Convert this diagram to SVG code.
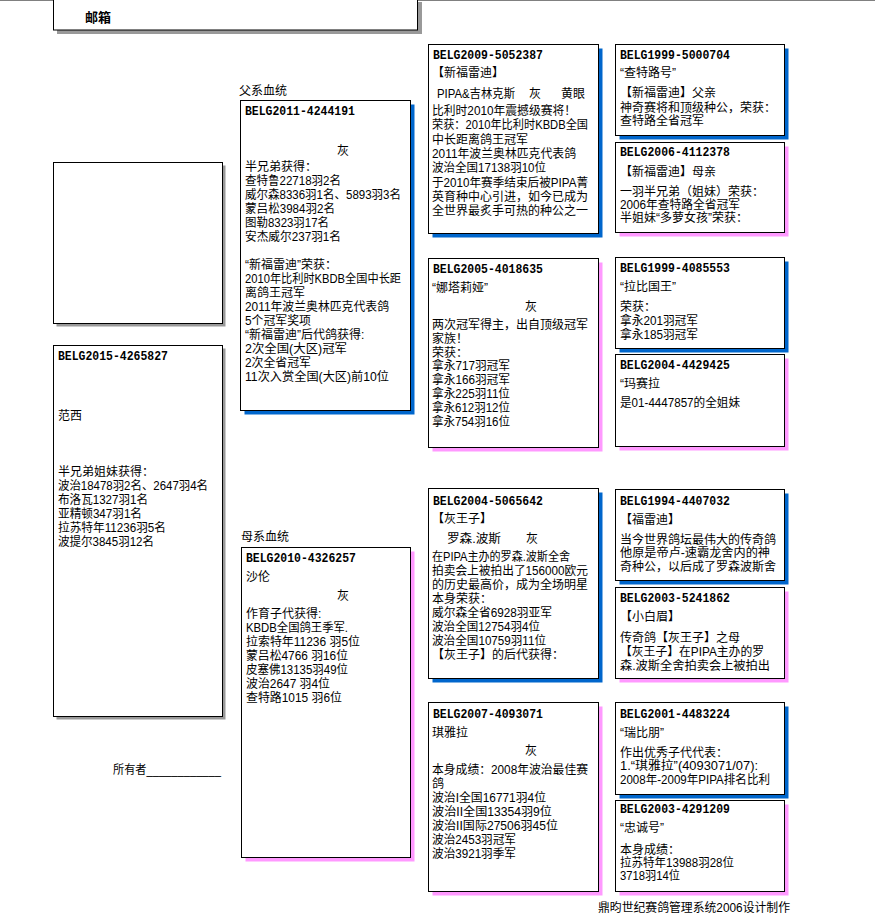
<svg xmlns="http://www.w3.org/2000/svg" width="875" height="914" viewBox="0 0 875 914">
<style>
.box{fill:#fff;stroke:#000;stroke-width:1}
.sb{fill:#0066cc}
.sp{fill:#ff99ff}
.sg{fill:#999}
text{font-family:"Liberation Sans","Noto Sans CJK SC",sans-serif;font-size:12px;fill:#000}
.h{font-family:"Liberation Mono","DejaVu Sans Mono",monospace;font-weight:bold;font-size:13px}
.big{font-size:13px;font-weight:bold}
</style>
<rect width="875" height="914" fill="#fff"/>
<line x1="0" y1="0.5" x2="875" y2="0.5" stroke="#808080" stroke-width="1"/>

<g id="mailbox">
<rect class="sg" x="57" y="2" width="365" height="32"/>
<rect class="box" x="53.5" y="-1.5" width="364" height="31.5"/>
<text class="big" x="85" y="22">邮箱</text>
</g>

<g id="photo">
<rect class="sg" x="56.5" y="165.5" width="169" height="161"/>
<rect class="box" x="53.5" y="162.5" width="169" height="161"/>
</g>

<g id="BELG2015-4265827">
<rect class="sg" x="56.5" y="348.5" width="169" height="371"/>
<rect class="box" x="53.5" y="345.5" width="169" height="371"/>
<text class="h" x="58" y="360" textLength="110" lengthAdjust="spacingAndGlyphs">BELG2015-4265827</text>
<text x="58" y="420">范西</text>
<text x="58" y="476">半兄弟姐妹获得：</text>
<text x="58" y="490" textLength="150" lengthAdjust="spacingAndGlyphs">波治18478羽2名、2647羽4名</text>
<text x="58" y="504" textLength="90" lengthAdjust="spacingAndGlyphs">布洛瓦1327羽1名</text>
<text x="58" y="518" textLength="84" lengthAdjust="spacingAndGlyphs">亚精顿347羽1名</text>
<text x="58" y="532" textLength="108" lengthAdjust="spacingAndGlyphs">拉苏特年11236羽5名</text>
<text x="58" y="546" textLength="96" lengthAdjust="spacingAndGlyphs">波提尔3845羽12名</text>
</g>

<g id="owner">
<text x="113" y="774" textLength="108" lengthAdjust="spacingAndGlyphs">所有者____________</text>
</g>

<g id="label-sire">
<text x="239" y="95">父系血统</text>
</g>
<g id="label-dam">
<text x="241" y="541">母系血统</text>
</g>

<g id="BELG2011-4244191">
<rect class="sb" x="244.5" y="104.5" width="170" height="310"/>
<rect class="box" x="240.5" y="100.5" width="170" height="310"/>
<text class="h" x="245" y="115" textLength="110" lengthAdjust="spacingAndGlyphs">BELG2011-4244191</text>
<text x="337" y="155">灰</text>
<text x="245" y="171">半兄弟获得：</text>
<text x="245" y="185" textLength="96" lengthAdjust="spacingAndGlyphs">查特鲁22718羽2名</text>
<text x="245" y="199" textLength="156" lengthAdjust="spacingAndGlyphs">威尔森8336羽1名、5893羽3名</text>
<text x="245" y="213" textLength="90" lengthAdjust="spacingAndGlyphs">蒙吕松3984羽2名</text>
<text x="245" y="227" textLength="84" lengthAdjust="spacingAndGlyphs">图勒8323羽17名</text>
<text x="245" y="241" textLength="96" lengthAdjust="spacingAndGlyphs">安杰威尔237羽1名</text>
<text x="245" y="269">“新福雷迪”荣获：</text>
<text x="245" y="283" textLength="156" lengthAdjust="spacingAndGlyphs">2010年比利时KBDB全国中长距</text>
<text x="245" y="297">离鸽王冠军</text>
<text x="245" y="311" textLength="144" lengthAdjust="spacingAndGlyphs">2011年波兰奥林匹克代表鸽</text>
<text x="245" y="325" textLength="66" lengthAdjust="spacingAndGlyphs">5个冠军奖项</text>
<text x="245" y="339">“新福雷迪”后代鸽获得:</text>
<text x="245" y="353" textLength="102" lengthAdjust="spacingAndGlyphs">2次全国(大区)冠军</text>
<text x="245" y="367" textLength="66" lengthAdjust="spacingAndGlyphs">2次全省冠军</text>
<text x="245" y="381" textLength="144" lengthAdjust="spacingAndGlyphs">11次入赏全国(大区)前10位</text>
</g>

<g id="BELG2010-4326257">
<rect class="sp" x="245.5" y="551.5" width="169" height="310"/>
<rect class="box" x="241.5" y="547.5" width="169" height="310"/>
<text class="h" x="246" y="562" textLength="110" lengthAdjust="spacingAndGlyphs">BELG2010-4326257</text>
<text x="246" y="581">沙伦</text>
<text x="337" y="600">灰</text>
<text x="246" y="618">作育子代获得:</text>
<text x="246" y="632" textLength="102" lengthAdjust="spacingAndGlyphs">KBDB全国鸽王季军.</text>
<text x="246" y="646" textLength="114" lengthAdjust="spacingAndGlyphs">拉索特年11236 羽5位</text>
<text x="246" y="660" textLength="102" lengthAdjust="spacingAndGlyphs">蒙吕松4766 羽16位</text>
<text x="246" y="674" textLength="102" lengthAdjust="spacingAndGlyphs">皮塞佛13135羽49位</text>
<text x="246" y="688" textLength="84" lengthAdjust="spacingAndGlyphs">波治2647 羽4位</text>
<text x="246" y="702" textLength="96" lengthAdjust="spacingAndGlyphs">查特路1015 羽6位</text>
</g>

<g id="BELG2009-5052387">
<rect class="sb" x="432.5" y="48.5" width="170" height="189"/>
<rect class="box" x="428.5" y="44.5" width="170" height="189"/>
<text class="h" x="433" y="59" textLength="110" lengthAdjust="spacingAndGlyphs">BELG2009-5052387</text>
<text x="432" y="77">【新福雷迪】</text>
<text x="437" y="98" textLength="78" lengthAdjust="spacingAndGlyphs">PIPA&amp;吉林克斯</text>
<text x="529" y="98">灰</text>
<text x="561" y="98">黄眼</text>
<text x="432" y="115" textLength="144" lengthAdjust="spacingAndGlyphs">比利时2010年震撼级赛将！</text>
<text x="432" y="129.3" textLength="156" lengthAdjust="spacingAndGlyphs">荣获：2010年比利时KBDB全国</text>
<text x="432" y="143.6">中长距离鸽王冠军</text>
<text x="432" y="157.9" textLength="144" lengthAdjust="spacingAndGlyphs">2011年波兰奥林匹克代表鸽</text>
<text x="432" y="172.2" textLength="114" lengthAdjust="spacingAndGlyphs">波治全国17138羽10位</text>
<text x="432" y="186.5" textLength="156" lengthAdjust="spacingAndGlyphs">于2010年赛季结束后被PIPA菁</text>
<text x="432" y="200.8">英育种中心引进，如今已成为</text>
<text x="432" y="215.1">全世界最炙手可热的种公之一</text>
</g>

<g id="BELG2005-4018635">
<rect class="sp" x="432.5" y="262.5" width="170" height="189"/>
<rect class="box" x="428.5" y="258.5" width="170" height="189"/>
<text class="h" x="433" y="273" textLength="110" lengthAdjust="spacingAndGlyphs">BELG2005-4018635</text>
<text x="432" y="292">“娜塔莉娅”</text>
<text x="525" y="311">灰</text>
<text x="432" y="329">两次冠军得主，出自顶级冠军</text>
<text x="432" y="342.8">家族！</text>
<text x="432" y="356.6">荣获：</text>
<text x="432" y="370.4" textLength="78" lengthAdjust="spacingAndGlyphs">拿永717羽冠军</text>
<text x="432" y="384.2" textLength="78" lengthAdjust="spacingAndGlyphs">拿永166羽冠军</text>
<text x="432" y="398" textLength="78" lengthAdjust="spacingAndGlyphs">拿永225羽11位</text>
<text x="432" y="411.8" textLength="78" lengthAdjust="spacingAndGlyphs">拿永612羽12位</text>
<text x="432" y="425.6" textLength="78" lengthAdjust="spacingAndGlyphs">拿永754羽16位</text>
</g>

<g id="BELG2004-5065642">
<rect class="sb" x="432.5" y="492.5" width="170" height="190"/>
<rect class="box" x="428.5" y="488.5" width="170" height="190"/>
<text class="h" x="433" y="505" textLength="110" lengthAdjust="spacingAndGlyphs">BELG2004-5065642</text>
<text x="432" y="523">【灰王子】</text>
<text x="447" y="543" textLength="54" lengthAdjust="spacingAndGlyphs">罗森.波斯</text>
<text x="526" y="543">灰</text>
<text x="432" y="561" textLength="138" lengthAdjust="spacingAndGlyphs">在PIPA主办的罗森.波斯全舍</text>
<text x="432" y="575" textLength="156" lengthAdjust="spacingAndGlyphs">拍卖会上被拍出了156000欧元</text>
<text x="432" y="589">的历史最高价，成为全场明星</text>
<text x="432" y="603">本身荣获：</text>
<text x="432" y="617" textLength="120" lengthAdjust="spacingAndGlyphs">威尔森全省6928羽亚军</text>
<text x="432" y="631" textLength="108" lengthAdjust="spacingAndGlyphs">波治全国12754羽4位</text>
<text x="432" y="645" textLength="114" lengthAdjust="spacingAndGlyphs">波治全国10759羽11位</text>
<text x="432" y="659">【灰王子】的后代获得：</text>
</g>

<g id="BELG2007-4093071">
<rect class="sp" x="432.5" y="706.5" width="170" height="189"/>
<rect class="box" x="428.5" y="702.5" width="170" height="189"/>
<text class="h" x="433" y="718" textLength="110" lengthAdjust="spacingAndGlyphs">BELG2007-4093071</text>
<text x="432" y="737">琪雅拉</text>
<text x="525" y="755">灰</text>
<text x="432" y="774" textLength="156" lengthAdjust="spacingAndGlyphs">本身成绩：2008年波治最佳赛</text>
<text x="432" y="788">鸽</text>
<text x="432" y="802" textLength="114" lengthAdjust="spacingAndGlyphs">波治I全国16771羽4位</text>
<text x="432" y="816" textLength="120" lengthAdjust="spacingAndGlyphs">波治II全国13354羽9位</text>
<text x="432" y="830" textLength="126" lengthAdjust="spacingAndGlyphs">波治II国际27506羽45位</text>
<text x="432" y="844" textLength="84" lengthAdjust="spacingAndGlyphs">波治2453羽冠军</text>
<text x="432" y="858" textLength="84" lengthAdjust="spacingAndGlyphs">波治3921羽季军</text>
</g>

<g id="BELG1999-5000704">
<rect class="sb" x="619.5" y="48.5" width="169" height="91"/>
<rect class="box" x="615.5" y="44.5" width="169" height="91"/>
<text class="h" x="620" y="59" textLength="110" lengthAdjust="spacingAndGlyphs">BELG1999-5000704</text>
<text x="620" y="77">“查特路号”</text>
<text x="620" y="97">【新福雷迪】父亲</text>
<text x="620" y="112">神奇赛将和顶级种公，荣获：</text>
<text x="620" y="125">查特路全省冠军</text>
</g>

<g id="BELG2006-4112378">
<rect class="sp" x="619.5" y="146.5" width="169" height="90"/>
<rect class="box" x="615.5" y="142.5" width="169" height="90"/>
<text class="h" x="620" y="156" textLength="110" lengthAdjust="spacingAndGlyphs">BELG2006-4112378</text>
<text x="620" y="176">【新福雷迪】母亲</text>
<text x="620" y="196">一羽半兄弟（姐妹）荣获：</text>
<text x="620" y="209" textLength="120" lengthAdjust="spacingAndGlyphs">2006年查特路全省冠军</text>
<text x="620" y="222">半姐妹“多萝女孩”荣获：</text>
</g>

<g id="BELG1999-4085553">
<rect class="sb" x="619.5" y="261.5" width="169" height="91"/>
<rect class="box" x="615.5" y="257.5" width="169" height="91"/>
<text class="h" x="620" y="272" textLength="110" lengthAdjust="spacingAndGlyphs">BELG1999-4085553</text>
<text x="620" y="291">“拉比国王”</text>
<text x="620" y="311">荣获：</text>
<text x="620" y="325" textLength="78" lengthAdjust="spacingAndGlyphs">拿永201羽冠军</text>
<text x="620" y="339" textLength="78" lengthAdjust="spacingAndGlyphs">拿永185羽冠军</text>
</g>

<g id="BELG2004-4429425">
<rect class="sp" x="619.5" y="358.5" width="169" height="92"/>
<rect class="box" x="615.5" y="354.5" width="169" height="92"/>
<text class="h" x="620" y="369" textLength="110" lengthAdjust="spacingAndGlyphs">BELG2004-4429425</text>
<text x="620" y="388">“玛赛拉</text>
<text x="620" y="407" textLength="120" lengthAdjust="spacingAndGlyphs">是01-4447857的全姐妹</text>
</g>

<g id="BELG1994-4407032">
<rect class="sb" x="619.5" y="493.5" width="169" height="91"/>
<rect class="box" x="615.5" y="489.5" width="169" height="91"/>
<text class="h" x="620" y="505" textLength="110" lengthAdjust="spacingAndGlyphs">BELG1994-4407032</text>
<text x="620" y="524">【福雷迪】</text>
<text x="620" y="544">当今世界鸽坛最伟大的传奇鸽</text>
<text x="620" y="557" textLength="150" lengthAdjust="spacingAndGlyphs">他原是帝卢-速霸龙舍内的神</text>
<text x="620" y="571">奇种公，以后成了罗森波斯舍</text>
</g>

<g id="BELG2003-5241862">
<rect class="sp" x="619.5" y="591.5" width="169" height="91"/>
<rect class="box" x="615.5" y="587.5" width="169" height="91"/>
<text class="h" x="620" y="602" textLength="110" lengthAdjust="spacingAndGlyphs">BELG2003-5241862</text>
<text x="620" y="621">【小白眉】</text>
<text x="620" y="642">传奇鸽【灰王子】之母</text>
<text x="620" y="656" textLength="144" lengthAdjust="spacingAndGlyphs">【灰王子】在PIPA主办的罗</text>
<text x="620" y="670" textLength="150" lengthAdjust="spacingAndGlyphs">森.波斯全舍拍卖会上被拍出</text>
</g>

<g id="BELG2001-4483224">
<rect class="sb" x="619.5" y="706.5" width="169" height="92"/>
<rect class="box" x="615.5" y="702.5" width="169" height="92"/>
<text class="h" x="620" y="718" textLength="110" lengthAdjust="spacingAndGlyphs">BELG2001-4483224</text>
<text x="620" y="737">“瑞比朋”</text>
<text x="620" y="757">作出优秀子代代表：</text>
<text x="620" y="770" textLength="138" lengthAdjust="spacingAndGlyphs">1.“琪雅拉”(4093071/07):</text>
<text x="620" y="784" textLength="150" lengthAdjust="spacingAndGlyphs">2008年-2009年PIPA排名比利</text>
</g>

<g id="BELG2003-4291209">
<rect class="sp" x="619.5" y="804.5" width="169" height="91"/>
<rect class="box" x="615.5" y="800.5" width="169" height="91"/>
<text class="h" x="620" y="813" textLength="110" lengthAdjust="spacingAndGlyphs">BELG2003-4291209</text>
<text x="620" y="832">“忠诚号”</text>
<text x="620" y="854">本身成绩：</text>
<text x="620" y="867" textLength="114" lengthAdjust="spacingAndGlyphs">拉苏特年13988羽28位</text>
<text x="620" y="880" textLength="60" lengthAdjust="spacingAndGlyphs">3718羽14位</text>
</g>

<g id="connectors"></g>

<g id="footer">
<text x="598" y="912" textLength="192" lengthAdjust="spacingAndGlyphs">鼎昀世纪赛鸽管理系统2006设计制作</text>
</g>
</svg>
